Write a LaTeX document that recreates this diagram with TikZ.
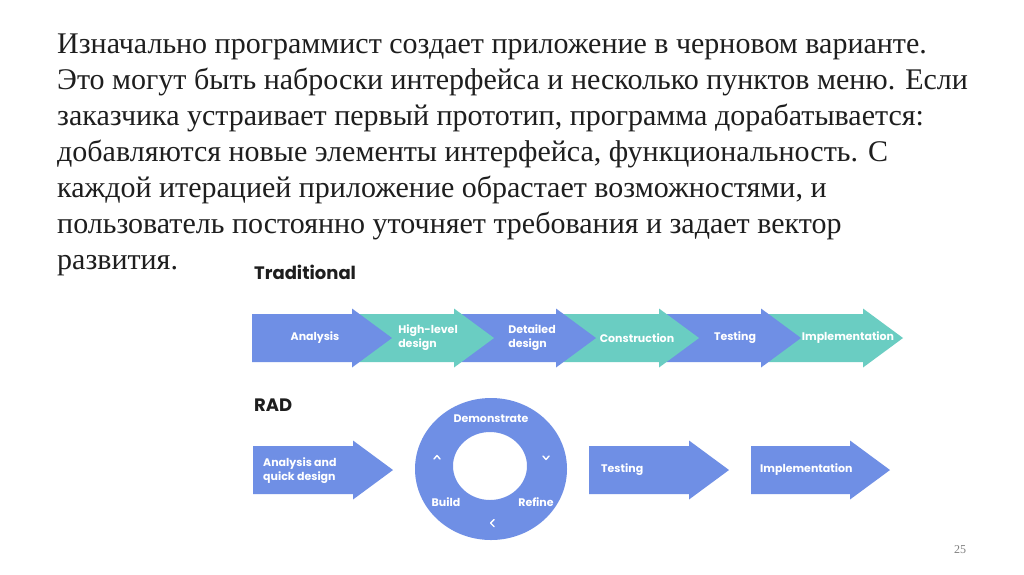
\documentclass[tikz,border=0pt]{standalone}
\usepackage{fontspec}
\setmainfont{Liberation Serif}
\newfontfamily\diagfont{Poppins}
\usetikzlibrary{positioning}
\definecolor{radblue}{RGB}{111,143,229}
\definecolor{radteal}{RGB}{106,205,194}
\definecolor{inkgray}{RGB}{30,30,30}
\tikzset{
  para/.style = {font=\fontsize{30}{36}\selectfont, text=inkgray, anchor=base west, inner sep=0pt},
  heading/.style = {font=\diagfont\bfseries\fontsize{18}{20}\selectfont, text=inkgray, anchor=west, inner sep=0pt},
  flowtext/.style = {font=\diagfont\bfseries\fontsize{11}{14}\selectfont, text=white, align=left, inner sep=0pt},
  chevron/.style = {draw=white, line width=1.4pt, line cap=round, line join=round},
  pagenum/.style = {font=\fontsize{12}{14}\selectfont, text=gray, inner sep=0pt}
}
% colour, tail x, head base x, tip x, middle y
\newcommand{\flowarrow}[5]{%
  \fill[#1] (#2,#5-24) -- (#3,#5-24) -- (#3,#5-29.5) -- (#4,#5) -- (#3,#5+29.5) -- (#3,#5+24) -- (#2,#5+24) -- cycle;}

\begin{document}
\begin{tikzpicture}[x=1pt,y=-1pt]
\useasboundingbox[fill=white] (0,0) rectangle (1024,574);

% Paragraph
\node[para] (line1) at (57,53) {Изначально программист создает приложение в черновом варианте.};
\node[para] (line2) at (57,89) {Это могут быть наброски интерфейса и несколько пунктов меню. Если};
\node[para] (line3) at (57,125) {заказчика устраивает первый прототип, программа дорабатывается:};
\node[para] (line4) at (57,161) {добавляются новые элементы интерфейса, функциональность. С};
\node[para] (line5) at (57,197) {каждой итерацией приложение обрастает возможностями, и};
\node[para] (line6) at (57,233) {пользователь постоянно уточняет требования и задает вектор};
\node[para] (line7) at (57,269) {развития.};

% Traditional row
\node[heading] (trad) at (254,272) {Traditional};
\flowarrow{radteal}{761}{863}{903}{338}
\flowarrow{radblue}{659}{761}{801}{338}
\flowarrow{radteal}{556}{659}{699}{338}
\flowarrow{radblue}{454}{556}{596}{338}
\flowarrow{radteal}{352}{454}{494}{338}
\flowarrow{radblue}{252}{352}{392}{338}
\node[flowtext] (analysis) at (315,338) {Analysis};
\node[flowtext] (highlevel) at (428,338) {High-level\\design};
\node[flowtext] (detailed) at (532,338) {Detailed\\design};
\node[flowtext] (construction) at (637,338) {Construction};
\node[flowtext] (testing) at (735,338) {Testing};
\node[flowtext] (implementation) at (848,338) {Implementation};

% RAD row
\node[heading] (rad) at (254,405) {RAD};
\flowarrow{radblue}{253}{353}{393}{470}
\node[flowtext, anchor=west] (quick) at (263,471) {Analysis and\\quick design};

\fill[radblue, even odd rule] (491,469) ellipse[x radius=76pt, y radius=71pt] (490,466) ellipse[x radius=37pt, y radius=34pt];
\node[flowtext] (demonstrate) at (491,419) {Demonstrate};
\node[flowtext] (build) at (446,502) {Build};
\node[flowtext] (refine) at (536,502) {Refine};
\draw[chevron] (434,459) -- (437,455.5) -- (440,459);
\draw[chevron] (543,456) -- (546,459.5) -- (549,456);
\draw[chevron] (494,519.5) -- (490.5,523) -- (494,526.5);

\flowarrow{radblue}{589}{689}{729}{470}
\node[flowtext, anchor=west] (radtesting) at (601,470) {Testing};
\flowarrow{radblue}{751}{850}{890}{470}
\node[flowtext, anchor=west] (radimpl) at (760,470) {Implementation};

\node[pagenum] (page) at (960,550) {25};
\end{tikzpicture}
\end{document}
